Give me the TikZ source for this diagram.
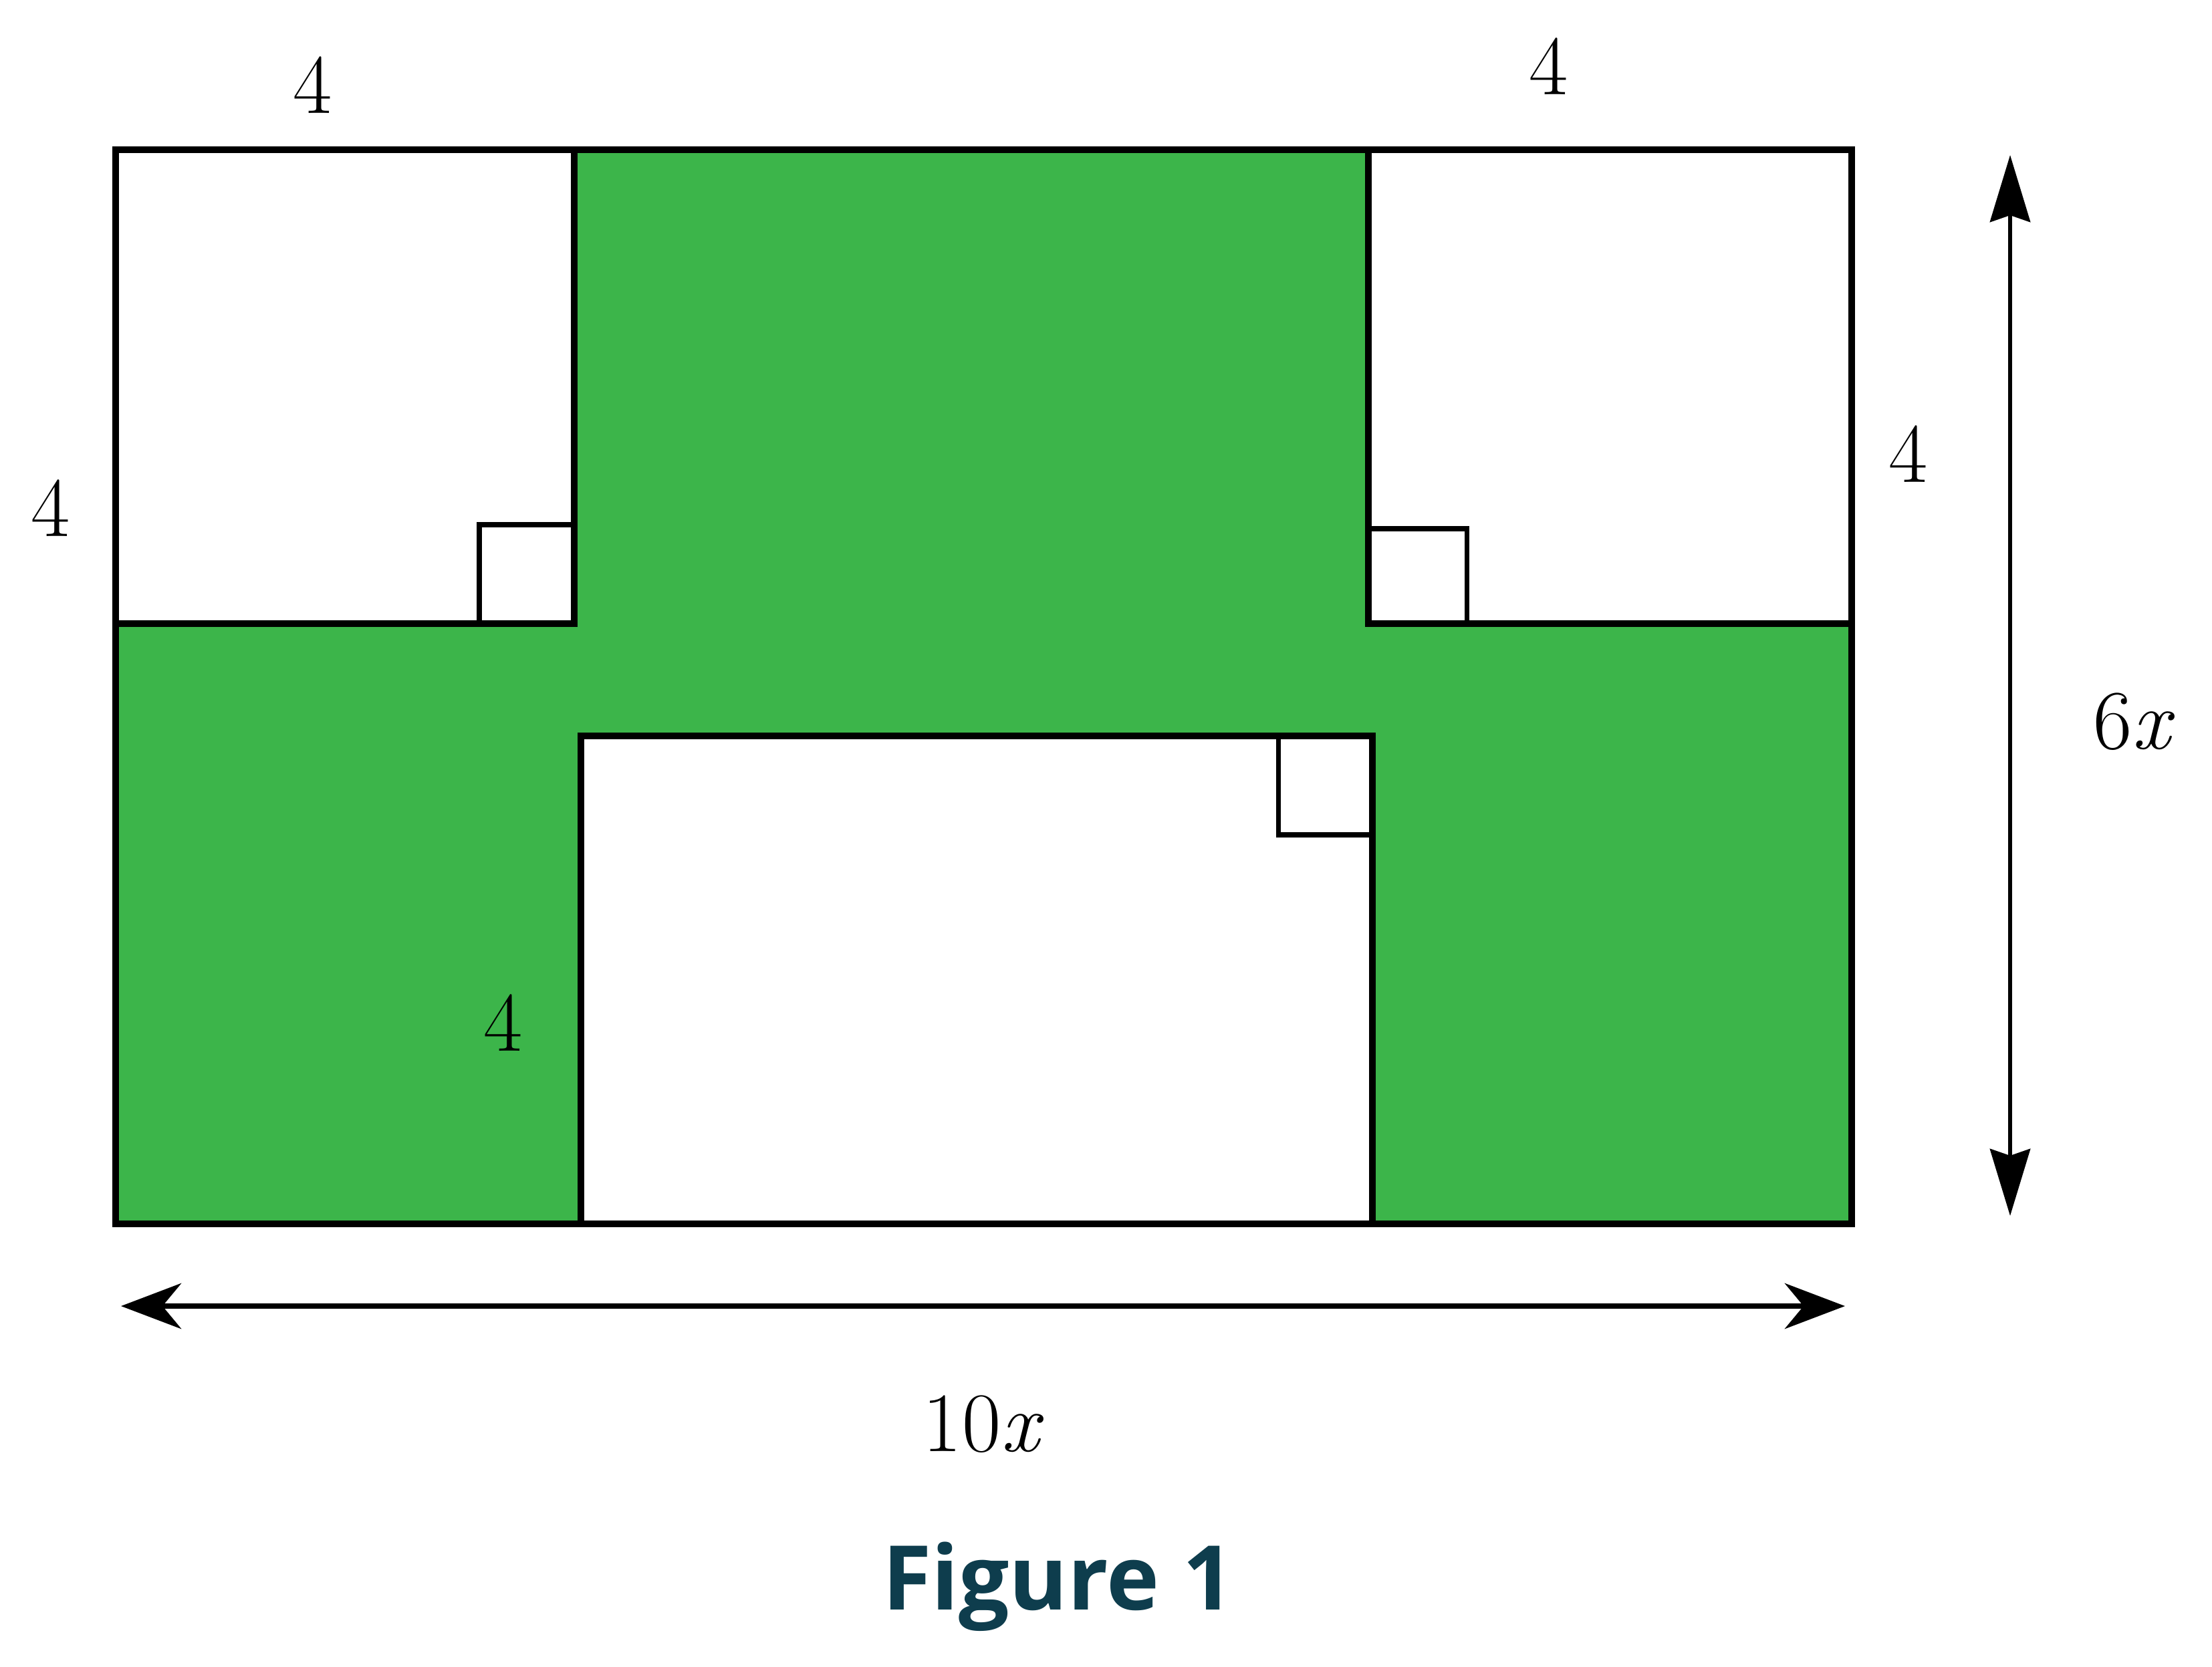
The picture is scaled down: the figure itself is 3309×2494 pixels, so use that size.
\documentclass[tikz,border=0pt]{standalone}
\usepackage{fontspec}
\newfontfamily\capfont{Open Sans}
\usetikzlibrary{arrows.meta}
\definecolor{figgreen}{RGB}{60,181,74}
\definecolor{capteal}{RGB}{14,61,77}
\tikzset{
  outline/.style={draw=black,line width=2.8pt,line join=miter},
  marker/.style={draw=black,line width=2pt},
  lbl/.style={font=\fontsize{36}{44}\selectfont,inner sep=0pt},
  dimv/.style={line width=1.8pt,{Stealth[length=1.0cm,width=0.6cm,inset=0.1cm]}-{Stealth[length=1.0cm,width=0.6cm,inset=0.1cm]}},
  dimh/.style={line width=2.3pt,{Stealth[length=0.9cm,width=0.68cm,inset=0.28cm]}-{Stealth[length=0.9cm,width=0.68cm,inset=0.28cm]}}
}
\begin{document}
\begin{tikzpicture}[x=0.01cm,y=-0.01cm]
\useasboundingbox[fill=white] (0,0) rectangle (3309,2494);
% green base
\fill[figgreen] (173,224) rectangle (2770,1831);
% white parts
\filldraw[fill=white,outline] (173,224) rectangle (859,933);
\filldraw[fill=white,outline] (2047,224) rectangle (2770,933);
\filldraw[fill=white,outline] (869,1101) rectangle (2053,1831);
% outer border
\draw[outline] (173,224) rectangle (2770,1831);
% right-angle markers
\draw[marker] (717,933) -- (717,785) -- (859,785);
\draw[marker] (2047,791) -- (2194,791) -- (2194,933);
\draw[marker] (1912,1101) -- (1912,1249) -- (2053,1249);
% dimension arrows
\coordinate (vt) at (3007,232);
\coordinate (vb) at (3007,1819);
\coordinate (hl) at (181,1954);
\coordinate (hr) at (2760,1954);
\draw[dimv] (vt) -- (vb);
\draw[dimh] (hl) -- (hr);
% labels
\node[lbl] (l1) at (468,127) {4};
\node[lbl] (l2) at (2317,99) {4};
\node[lbl] (l3) at (76,760) {4};
\node[lbl] (l4) at (2855,679) {4};
\node[lbl] (l5) at (753,1530) {4};
\node[lbl] (l6) at (3192,1080) {6\textit{x}};
\node[lbl] (l7) at (1471,2131) {10\textit{x}};
\node[inner sep=0pt,text=capteal,font=\capfont\bfseries\fontsize{38}{46}\selectfont] (cap) at (1583,2374) {Figure 1};
\end{tikzpicture}
\end{document}
